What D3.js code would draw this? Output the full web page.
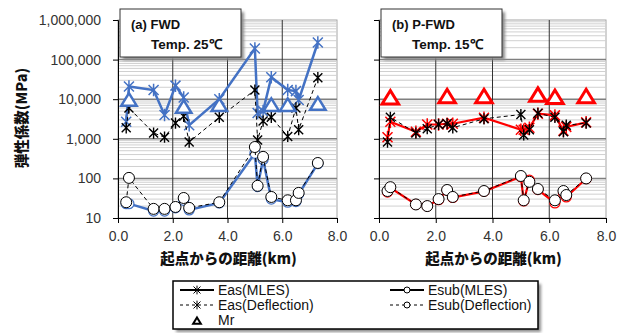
<!DOCTYPE html>
<html>
<head>
<meta charset="utf-8">
<script src="https://cdn.jsdelivr.net/npm/d3@7"></script>
<style>
  body { margin: 0; background: #fff; }
  text { font-family: "Liberation Sans", Arial, sans-serif; }
  .jp { font-family: "Noto Sans CJK JP", sans-serif; font-weight: 900; }
</style>
</head>
<body>
<svg id="chart" width="628" height="333"></svg>
<script>
// distances from start point (km), shared by both panels
const distances = [0.3, 0.4, 1.3, 1.7, 2.1, 2.4, 2.6, 3.7, 5.0, 5.1, 5.3, 5.6, 6.2, 6.5, 6.6, 7.3];
const mrDistances = [0.4, 2.4, 3.7, 5.6, 6.2, 7.3];

// (a) FWD, 25C
const fwdEasMles = [2700, 21000, 17000, 4000, 22000, 11000, 2200, 10000, 190000, 4500, 5000, 36000, 17000, 16000, 9500, 270000];
const fwdEasDefl = [1900, 6000, 1400, 1100, 2500, 3700, 830, 3500, 17000, 930, 2800, 3500, 1150, 6000, 1700, 35000];
const fwdSubMles = [23, 23, 15, 15, 18, 28, 16, 24, 430, 62, 300, 30, 25, 26, 40, 235];
const fwdSubDefl = [25, 103, 17, 17, 19, 32, 18, 25, 620, 65, 350, 34, 28, 28, 43, 245];
const fwdMr = [9500, 6300, 7000, 7000, 7000, 7500];

// (b) P-FWD, 15C
const pfwdEasMles = [1100, 2700, 1500, 2300, 2300, 2400, 2400, 3400, 1700, 1700, 1900, 4300, 3900, 1600, 2000, 2600];
const pfwdEasDefl = [830, 3500, 1400, 1800, 2300, 2400, 1900, 3200, 4100, 1250, 1700, 4400, 3500, 1500, 2200, 2500];
const pfwdSubMles = [45, 58, 22, 20, 29, 50, 33, 47, 110, 27, 90, 52, 24, 42, 34, 98];
const pfwdSubDefl = [48, 60, 22, 20, 30, 51, 34, 48, 115, 28, 82, 54, 28, 48, 38, 100];
const pfwdMr = [10700, 11500, 11500, 12500, 11000, 11500];

const xTicks = [0, 2, 4, 6, 8];
const yTicks = [10, 100, 1000, 10000, 100000, 1000000];

const svg = d3.select("#chart");

const defs = svg.append("defs");
defs.append("filter").attr("id", "shadow")
  .attr("x", "-20%").attr("y", "-20%").attr("width", "150%").attr("height", "150%")
  .append("feGaussianBlur").attr("stdDeviation", 1.5);

const y = d3.scaleLog().domain([10, 1000000]).range([218, 20]);

const starPath = s => `M${-s},${-s}L${s},${s}M${-s},${s}L${s},${-s}M0,${-s * 1.25}L0,${s * 1.25}`;
const triPath = s => `M0,${-s}L${s * 1.1},${s * 0.8}L${-s * 1.1},${s * 0.8}Z`;

function drawPanel(opt) {
  const x = d3.scaleLinear().domain([0, 8]).range(opt.xRange);
  const g = svg.append("g");
  const [x0, x1] = opt.xRange;

  // plot area
  g.append("rect").attr("x", x0).attr("y", 20).attr("width", x1 - x0).attr("height", 198)
    .attr("fill", "#fff").attr("stroke", "#a6a6a6");

  // minor grid
  const minor = [];
  for (let d = 10; d < 1000000; d *= 10) for (let k = 2; k < 10; k++) minor.push(k * d);
  g.selectAll(".minor").data(minor).join("line")
    .attr("x1", x0).attr("x2", x1).attr("y1", d => y(d)).attr("y2", d => y(d))
    .attr("stroke", "#d0d0d0").attr("stroke-width", 1);
  g.selectAll(".major").data(yTicks.slice(1, -1)).join("line")
    .attr("x1", x0).attr("x2", x1).attr("y1", d => y(d)).attr("y2", d => y(d))
    .attr("stroke", "#7f7f7f").attr("stroke-width", 1.5);
  g.selectAll(".vgrid").data([2, 4, 6]).join("line")
    .attr("x1", d => x(d)).attr("x2", d => x(d)).attr("y1", 20).attr("y2", 218)
    .attr("stroke", "#333").attr("stroke-width", 1);

  // axes
  const ya = d3.axisLeft(y).tickValues(yTicks).tickSize(5).tickPadding(12)
    .tickFormat(opt.yLabels ? d3.format(",") : "");
  g.append("g").attr("transform", `translate(${x0},0)`).call(ya)
    .call(a => a.select(".domain").attr("stroke", "#000"))
    .call(a => a.selectAll("text").attr("font-size", 14).attr("fill", "#333")
      .attr("font-family", "Liberation Sans, Arial, sans-serif"));
  const xa = d3.axisBottom(x).tickValues(xTicks).tickSize(5).tickPadding(8)
    .tickFormat(d3.format(".1f"));
  g.append("g").attr("transform", "translate(0,218)").call(xa)
    .call(a => a.select(".domain").attr("stroke", "#000"))
    .call(a => a.selectAll("text").attr("font-size", 14).attr("fill", "#333")
      .attr("font-family", "Liberation Sans, Arial, sans-serif"));

  g.append("text").attr("class", "jp").attr("x", (x0 + x1) / 2 + 1).attr("y", 264)
    .attr("text-anchor", "middle").attr("font-size", 14.5).attr("fill", "#111")
    .text("起点からの距離(km)");

  const line = d3.line().x((d, i) => x(distances[i])).y(d => y(d));
  const c = opt.color;

  // coloured MLES series
  g.append("path").datum(opt.subMles).attr("d", line).attr("fill", "none")
    .attr("stroke", c).attr("stroke-width", opt.lw);
  g.selectAll(".subm").data(opt.subMles).join("circle")
    .attr("cx", (d, i) => x(distances[i])).attr("cy", d => y(d)).attr("r", 5)
    .attr("fill", "#fff").attr("stroke", c).attr("stroke-width", 1.2);
  g.append("path").datum(opt.easMles).attr("d", line).attr("fill", "none")
    .attr("stroke", c).attr("stroke-width", opt.lw);
  g.selectAll(".easm").data(opt.easMles).join("path")
    .attr("transform", (d, i) => `translate(${x(distances[i])},${y(d)})`)
    .attr("d", starPath(5)).attr("stroke", c).attr("stroke-width", 1.5).attr("fill", "none");

  // black deflection series
  g.append("path").datum(opt.easDefl).attr("d", line).attr("fill", "none")
    .attr("stroke", "#000").attr("stroke-width", 1).attr("stroke-dasharray", "4,3");
  g.selectAll(".easd").data(opt.easDefl).join("path")
    .attr("transform", (d, i) => `translate(${x(distances[i])},${y(d)})`)
    .attr("d", starPath(4.5)).attr("stroke", "#000").attr("stroke-width", 1.4).attr("fill", "none");
  g.append("path").datum(opt.subDefl).attr("d", line).attr("fill", "none")
    .attr("stroke", "#000").attr("stroke-width", 1).attr("stroke-dasharray", "4,3");
  g.selectAll(".subd").data(opt.subDefl).join("circle")
    .attr("cx", (d, i) => x(distances[i])).attr("cy", d => y(d)).attr("r", 5.5)
    .attr("fill", "#fff").attr("stroke", "#000").attr("stroke-width", 1);

  // Mr triangles
  g.selectAll(".mr").data(opt.mr).join("path")
    .attr("transform", (d, i) => `translate(${x(mrDistances[i])},${y(d)})`)
    .attr("d", triPath(opt.triSize)).attr("fill", "#fff").attr("stroke", c)
    .attr("stroke-width", opt.triStroke).attr("stroke-linejoin", "miter");

  // title box
  const bx = x0 + 2, by = 9, bw = 121, bh = 48;
  g.append("rect").attr("x", bx + 3).attr("y", by + 3).attr("width", bw).attr("height", bh)
    .attr("fill", "#8c8c8c").attr("filter", "url(#shadow)");
  g.append("rect").attr("x", bx).attr("y", by).attr("width", bw).attr("height", bh)
    .attr("fill", "#fff").attr("stroke", "#333").attr("stroke-width", 1);
  g.append("text").attr("x", bx + 11).attr("y", by + 20).attr("font-size", 13)
    .attr("font-weight", "bold").attr("fill", "#111").text(opt.title);
  g.append("text").attr("x", bx + 31).attr("y", by + 40).attr("font-size", 13.5)
    .attr("font-weight", "bold").attr("fill", "#111").text(opt.temp);
}

drawPanel({
  xRange: [118, 337], yLabels: true, color: "#4472c4", lw: 2.5,
  easMles: fwdEasMles, easDefl: fwdEasDefl, subMles: fwdSubMles, subDefl: fwdSubDefl,
  mr: fwdMr, triSize: 7, triStroke: 2.5, title: "(a) FWD", temp: "Temp.  25℃"
});
drawPanel({
  xRange: [379, 606], yLabels: false, color: "#ff0000", lw: 2.2,
  easMles: pfwdEasMles, easDefl: pfwdEasDefl, subMles: pfwdSubMles, subDefl: pfwdSubDefl,
  mr: pfwdMr, triSize: 7.5, triStroke: 3, title: "(b) P-FWD", temp: "Temp.  15℃"
});

// y axis title
svg.append("text").attr("class", "jp").attr("transform", "translate(27,118) rotate(-90)")
  .attr("text-anchor", "middle").attr("font-size", 14.5).attr("fill", "#111")
  .text("弾性係数(MPa)");

// legend
const lg = svg.append("g");
lg.append("rect").attr("x", 176).attr("y", 284).attr("width", 365).attr("height", 48)
  .attr("fill", "#8c8c8c").attr("filter", "url(#shadow)");
lg.append("rect").attr("x", 173).attr("y", 281).attr("width", 365).attr("height", 48)
  .attr("fill", "#fff").attr("stroke", "#000").attr("stroke-width", 1.5);
const legendItems = [
  { label: "Eas(MLES)", col: 0, row: 0, dash: null, marker: "star" },
  { label: "Eas(Deflection)", col: 0, row: 1, dash: "3,3", marker: "star" },
  { label: "Mr", col: 0, row: 2, dash: "none", marker: "tri" },
  { label: "Esub(MLES)", col: 1, row: 0, dash: null, marker: "circle" },
  { label: "Esub(Deflection)", col: 1, row: 1, dash: "3,3", marker: "circle" }
];
legendItems.forEach(it => {
  const lx = it.col === 0 ? 180 : 390, ly = 290 + it.row * 15;
  if (it.dash !== "none") {
    lg.append("line").attr("x1", lx).attr("x2", lx + 34).attr("y1", ly).attr("y2", ly)
      .attr("stroke", "#000").attr("stroke-width", it.dash ? 1 : 2)
      .attr("stroke-dasharray", it.dash);
  }
  const mx = lx + 17;
  if (it.marker === "star") {
    lg.append("path").attr("transform", `translate(${mx},${ly})`).attr("d", starPath(3.5))
      .attr("stroke", "#000").attr("stroke-width", 1).attr("fill", "none");
  } else if (it.marker === "circle") {
    lg.append("circle").attr("cx", mx).attr("cy", ly).attr("r", 3)
      .attr("fill", "#fff").attr("stroke", "#000").attr("stroke-width", 1);
  } else {
    lg.append("path").attr("transform", `translate(${mx},${ly + 1})`).attr("d", triPath(3.5))
      .attr("fill", "#fff").attr("stroke", "#000").attr("stroke-width", 2);
  }
  lg.append("text").attr("x", lx + 38).attr("y", ly + 5).attr("font-size", 14)
    .attr("fill", "#111").text(it.label);
});
</script>
</body>
</html>
